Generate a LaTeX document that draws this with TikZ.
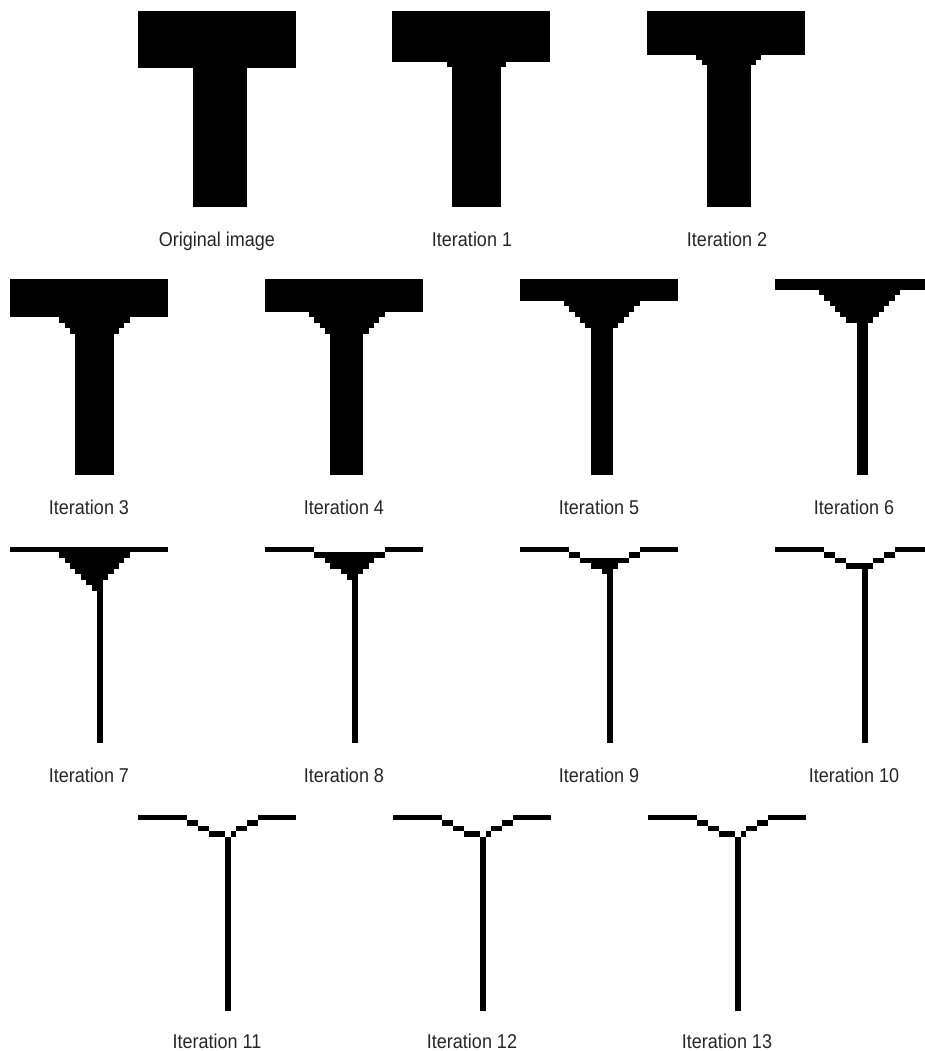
\documentclass[tikz,border=0pt]{standalone}
\usepackage{fontspec}
\setmainfont{Liberation Sans}[FakeStretch=0.9]

\begin{document}
\begin{tikzpicture}[x=1pt, y=-1pt, font=\fontsize{20}{24}\selectfont,
    lab/.style={anchor=base, text=black!85, inner sep=0pt},
    px/.style={x=5.45pt, y=-5.45pt}]
  \useasboundingbox (0,0) rectangle (925,1051);
  \clip (0,0) rectangle (925,1051);
  % cells as x1/y1/x2/y2, rows counted downwards
  % row 1: original, iterations 1-2
  \begin{scope}[shift={(138,11)}, px]
    \foreach \xa/\ya/\xb/\yb in {0/0/29/10.4, 10/10.4/20/36}{\fill (\xa,\ya) rectangle (\xb,\yb);}
  \end{scope}
  \begin{scope}[shift={(392,11)}, px]
    \foreach \xa/\ya/\xb/\yb in {0/0/29/9.3, 10/9.3/21/10.3, 11/10.3/20/36}{\fill (\xa,\ya) rectangle (\xb,\yb);}
  \end{scope}
  \begin{scope}[shift={(647,11)}, px]
    \foreach \xa/\ya/\xb/\yb in {0/0/29/8, 9/8/21/9, 10/9/20/10, 11/10/19/36}{\fill (\xa,\ya) rectangle (\xb,\yb);}
  \end{scope}
  % row 2: iterations 3-6
  \begin{scope}[shift={(10,279)}, px]
    \foreach \xa/\ya/\xb/\yb in {0/0/29/7, 9/7/22/8, 10/8/21/9, 11/9/20/10, 12/10/19/36}{\fill (\xa,\ya) rectangle (\xb,\yb);}
  \end{scope}
  \begin{scope}[shift={(265,279)}, px]
    \foreach \xa/\ya/\xb/\yb in {0/0/29/6, 8/6/22/7, 9/7/21/8, 10/8/20/9, 11/9/19/10, 12/10/18/36}{\fill (\xa,\ya) rectangle (\xb,\yb);}
  \end{scope}
  \begin{scope}[shift={(520,279)}, px]
    \foreach \xa/\ya/\xb/\yb in {0/0/29/4, 8/4/22/5, 9/5/21/6, 10/6/20/7, 11/7/19/8, 12/8/18/9, 13/9/17/36}{\fill (\xa,\ya) rectangle (\xb,\yb);}
  \end{scope}
  \begin{scope}[shift={(775,279)}, px]
    \foreach \xa/\ya/\xb/\yb in {0/0/29/2, 8/2/23/3, 9/3/22/4, 10/4/21/5, 11/5/20/6, 12/6/19/7, 13/7/18/8, 15/8/17/36}{\fill (\xa,\ya) rectangle (\xb,\yb);}
  \end{scope}
  % row 3: iterations 7-10
  \begin{scope}[shift={(10,547)}, px]
    \foreach \xa/\ya/\xb/\yb in {0/0/29/1, 9/1/22/2, 10/2/21/3, 11/3/20/4, 12/4/19/5, 13/5/18/6, 14/6/17/7, 15/7/17/8, 16/8/17/36}{\fill (\xa,\ya) rectangle (\xb,\yb);}
  \end{scope}
  \begin{scope}[shift={(265,547)}, px]
    \foreach \xa/\ya/\xb/\yb in {0/0/9/1, 22/0/29/1, 9/1/22/2, 11/2/20/3, 12/3/19/4, 14/4/18/5, 15/5/17/6, 16/6/17/36}{\fill (\xa,\ya) rectangle (\xb,\yb);}
  \end{scope}
  \begin{scope}[shift={(520,547)}, px]
    \foreach \xa/\ya/\xb/\yb in {0/0/9/1, 22/0/29/1, 9/1/11/2, 20/1/22/2, 11/2/20/3, 13/3/18/4, 15/4/17/5, 16/5/17/36}{\fill (\xa,\ya) rectangle (\xb,\yb);}
  \end{scope}
  \begin{scope}[shift={(775,547)}, px]
    \foreach \xa/\ya/\xb/\yb in {0/0/9/1, 22/0/29/1, 9/1/11/2, 20/1/22/2, 11/2/13/3, 18/2/20/3, 13/3/18/4, 16/4/17/36}{\fill (\xa,\ya) rectangle (\xb,\yb);}
  \end{scope}
  % row 4: iterations 11-13
  \foreach \px in {138, 393, 648}{
    \begin{scope}[shift={(\px,815)}, px]
      \foreach \xa/\ya/\xb/\yb in {0/0/9/1, 22/0/29/1, 9/1/11/2, 20/1/22/2, 11/2/13/3, 18/2/20/3, 13/3/16/4, 17/3/18/4, 16/4/17/36}{\fill (\xa,\ya) rectangle (\xb,\yb);}
    \end{scope}}
  % labels
  \node[lab] (orig) at (217,246) {Original image};
  \foreach \i/\x/\y in {1/472/246, 2/727/246, 3/89/514, 4/344/514, 5/599/514, 6/854/514,
      7/89/782, 8/344/782, 9/599/782, 10/854/782, 11/217/1048, 12/472/1048, 13/727/1048}
    \node[lab] (it\i) at (\x,\y) {Iteration \i};
\end{tikzpicture}
\end{document}
